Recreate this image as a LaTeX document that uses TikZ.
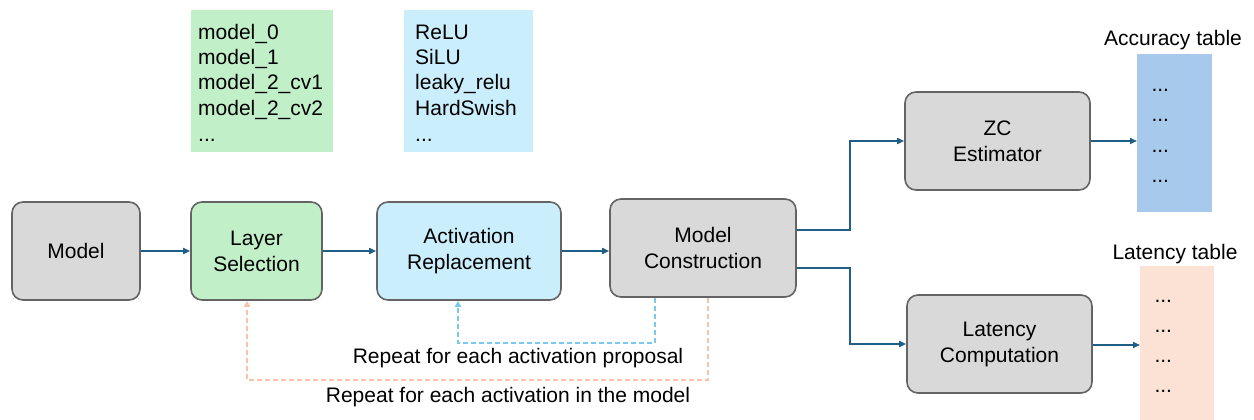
\documentclass[tikz,border=0pt]{standalone}
\usepackage{fontspec}
\setmainfont{Liberation Sans}
\usetikzlibrary{arrows.meta}
\definecolor{arr}{RGB}{31,95,135}
\definecolor{boxgray}{RGB}{217,217,217}
\definecolor{boxline}{RGB}{100,100,100}
\definecolor{lgreen}{RGB}{193,240,200}
\definecolor{lblue}{RGB}{202,238,251}
\definecolor{accblue}{RGB}{166,201,236}
\definecolor{latpeach}{RGB}{251,226,213}
\definecolor{dashblue}{RGB}{122,200,238}
\definecolor{dashorange}{RGB}{247,196,170}
\begin{document}
\begin{tikzpicture}[x=1pt,y=-1pt,
  font=\fontsize{21}{26}\selectfont,
  proc/.style={draw=boxline, line width=1.6pt, rounded corners=11pt, fill=boxgray, align=center, inner sep=0pt},
  flow/.style={draw=arr, line width=1.6pt, -{Triangle[length=7pt,width=6pt]}},
  loopb/.style={draw=dashblue, line width=1.4pt, dash pattern=on 5pt off 3pt, -{Triangle[length=6pt,width=6pt]}},
  loopo/.style={draw=dashorange, line width=1.4pt, dash pattern=on 5pt off 3pt, -{Triangle[length=6pt,width=6pt]}}
]
\useasboundingbox (0,0) rectangle (1254,420);
% lists
\fill[lgreen] (191,10) rectangle (333,152);
\fill[lblue] (404,10) rectangle (533,152);
\node[anchor=base west, inner sep=0pt] (g1) at (198,40) {model\_0};
\node[anchor=base west, inner sep=0pt] (g2) at (198,65) {model\_1};
\node[anchor=base west, inner sep=0pt] (g3) at (198,90) {model\_2\_cv1};
\node[anchor=base west, inner sep=0pt] (g4) at (198,115) {model\_2\_cv2};
\node[anchor=base west, inner sep=0pt] (g5) at (198,141) {...};
\node[anchor=base west, inner sep=0pt] (b1) at (415,40) {ReLU};
\node[anchor=base west, inner sep=0pt] (b2) at (415,65) {SiLU};
\node[anchor=base west, inner sep=0pt] (b3) at (415,90) {leaky\_relu};
\node[anchor=base west, inner sep=0pt] (b4) at (415,115) {HardSwish};
\node[anchor=base west, inner sep=0pt] (b5) at (415,141) {...};
% main boxes
\node[proc, minimum width=128pt, minimum height=98pt] (model) at (76,251) {Model};
\node[proc, fill=lgreen, minimum width=131pt, minimum height=98pt] (layer) at (256.5,251) {Layer\\Selection};
\node[proc, fill=lblue, minimum width=184pt, minimum height=98pt] (act) at (469,251) {Activation\\Replacement};
\node[proc, minimum width=186pt, minimum height=98pt] (cons) at (703,248) {Model\\Construction};
\node[proc, minimum width=185pt, minimum height=98pt] (zc) at (997.5,141) {ZC\\Estimator};
\node[proc, minimum width=185pt, minimum height=98pt] (lat) at (999.5,344) {Latency\\Computation};
% tables
\fill[accblue] (1137,54) rectangle (1212,212);
\node (acclabel) at (1173,40) {Accuracy table};
\node[anchor=west] (a1) at (1148,90) {...};
\node[anchor=west] (a2) at (1148,120) {...};
\node[anchor=west] (a3) at (1148,151) {...};
\node[anchor=west] (a4) at (1148,181) {...};
\fill[latpeach] (1140,266) rectangle (1214,420);
\node (latlabel) at (1175,254) {Latency table};
\node[anchor=west] (l1) at (1151,301) {...};
\node[anchor=west] (l2) at (1151,331) {...};
\node[anchor=west] (l3) at (1151,361) {...};
\node[anchor=west] (l4) at (1151,391) {...};
\coordinate (accin) at (1137,141);
\coordinate (latin) at (1140,345);
% flow arrows
\draw[flow] (model.east |- 0,251) -- (layer.west |- 0,251);
\draw[flow] (layer.east |- 0,251) -- (act.west |- 0,251);
\draw[flow] (act.east |- 0,251) -- (cons.west |- 0,251);
\draw[flow] (cons.east |- 0,230) -| (850,190) |- (zc.west);
\draw[flow] (cons.east |- 0,268) -| (850,300) |- (lat.west);
\draw[flow] (zc.east) -- (accin);
\draw[flow] (lat.east |- latin) -- (latin);
% loops
\draw[loopb] (cons.south -| 655,0) |- (458,343) -- (act.south -| 458,0);
\draw[loopo] (cons.south -| 708,0) |- (247,380) -- (layer.south -| 247,0);
\node (lb1) at (518,358) {Repeat for each activation proposal};
\node (lb2) at (508,397) {Repeat for each activation in the model};
\end{tikzpicture}
\end{document}
